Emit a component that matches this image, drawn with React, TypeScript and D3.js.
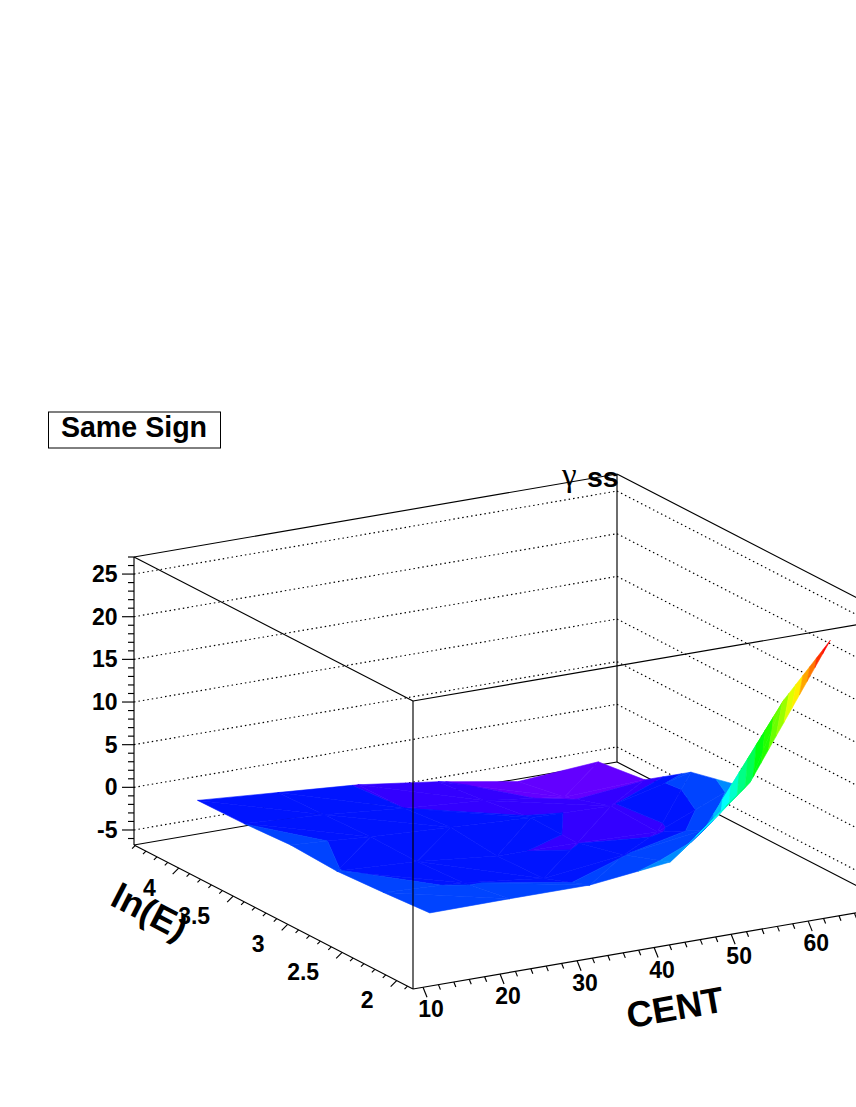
import React from 'react';
import * as d3 from 'd3';

// surface grid
const centGrid = [13, 23.4, 33.8, 44.2, 54.6, 65];
const energyGrid = [2, 2.426, 2.852, 3.278, 3.704, 4.13];
const gammaE0 = [0.5, 0.56, 0.55, 1.63, 9.39, 24.4];
const gammaE1 = [0.1, -0.38, -1.5, -0.35, 0.95, 14.6];
const gammaE2 = [-0.22, -0.7, -1.67, -1.75, -2.1, 1.8];
const gammaE3 = [0.05, -0.6, -1.1, -1.6, -1.85, 0.5];
const gammaE4 = [-0.26, -0.85, -1.7, -2.4, -3.6, -3.2];
const gammaE5 = [-0.35, -1.05, -1.75, -3.0, -4.6, -3.9];
const gamma = [gammaE0, gammaE1, gammaE2, gammaE3, gammaE4, gammaE5];

const centTicks = [10, 20, 30, 40, 50, 60];
const energyTicks = [2, 2.5, 3, 3.5, 4];
const gammaTicks = [-5, 0, 5, 10, 15, 20, 25];

const centDomain: [number, number] = [8.7, 71.4];
const energyDomain: [number, number] = [1.85, 4.41];
const gammaDomain: [number, number] = [-6.76, 27];

const nBands = 20;
const font = '"Liberation Sans", Arial, sans-serif';

// box corner and the three projected axis vectors (parallel projection)
const origin = [413, 989];
const centVec = [483, -83];
const energyVec = [-279, -144];
const gammaVec = [0, -288];

const cs = d3.scaleLinear().domain(centDomain).range([0, 1]);
const es = d3.scaleLinear().domain(energyDomain).range([0, 1]);
const zs = d3.scaleLinear().domain(gammaDomain).range([0, 1]);

type P3 = [number, number, number];

function project(c: number, e: number, z: number): [number, number] {
  const a = cs(c), b = es(e), d = zs(z);
  return [
    origin[0] + a * centVec[0] + b * energyVec[0] + d * gammaVec[0],
    origin[1] + a * centVec[1] + b * energyVec[1] + d * gammaVec[1],
  ];
}

const zMin = d3.min(gamma.flat()) as number;
const zMax = d3.max(gamma.flat()) as number;
const bandOf = d3.scaleQuantize<number>().domain([zMin, zMax]).range(d3.range(nBands));
const levels = [zMin, ...bandOf.thresholds(), zMax];

// ROOT's default rainbow palette, 50 hues thinned to the contour count
function bandColor(k: number) {
  const idx = Math.floor(((k + 0.99) * 50) / nBands);
  return d3.hsl(280 - (idx + 1) * 5.6, 1, 0.5).formatHex();
}

function clip(poly: P3[], level: number, keepAbove: boolean): P3[] {
  const out: P3[] = [];
  poly.forEach((p, n) => {
    const q = poly[(n + 1) % poly.length];
    const pIn = keepAbove ? p[2] >= level : p[2] <= level;
    const qIn = keepAbove ? q[2] >= level : q[2] <= level;
    if (pIn) out.push(p);
    if (pIn !== qIn) {
      const t = (level - p[2]) / (q[2] - p[2]);
      out.push([p[0] + t * (q[0] - p[0]), p[1] + t * (q[1] - p[1]), level]);
    }
  });
  return out;
}

const line = d3.line().curve(d3.curveLinearClosed);

function surfacePieces() {
  const pieces: { d: string; fill: string }[] = [];
  const cells: [number, number][] = [];
  for (let j = 0; j < energyGrid.length - 1; j++)
    for (let i = 0; i < centGrid.length - 1; i++) cells.push([i, j]);
  cells.sort((a, b) => b[0] + b[1] - (a[0] + a[1]));

  const vert = (i: number, j: number): P3 => [centGrid[i], energyGrid[j], gamma[j][i]];
  cells.forEach(([i, j]) => {
    const a = vert(i, j), b = vert(i + 1, j), c = vert(i + 1, j + 1), d = vert(i, j + 1);
    // split each quad along the flatter diagonal
    const tris: P3[][] =
      Math.abs(a[2] - c[2]) < Math.abs(b[2] - d[2])
        ? [[a, c, d], [a, b, c]]
        : [[b, c, d], [a, b, d]];
    tris.forEach((tri) => {
      d3.range(nBands).forEach((k) => {
        let poly = clip(tri, levels[k], true);
        if (poly.length) poly = clip(poly, levels[k + 1], false);
        if (poly.length < 3) return;
        const pts = poly.map((p) => project(p[0], p[1], p[2]));
        pieces.push({ d: line(pts) as string, fill: bandColor(k) });
      });
    });
  });
  return pieces;
}

function Seg({ a, b, dash }: { a: number[]; b: number[]; dash?: string }) {
  return (
    <line
      x1={a[0]}
      y1={a[1]}
      x2={b[0]}
      y2={b[1]}
      stroke="#000"
      strokeWidth={1.15}
      strokeDasharray={dash}
    />
  );
}

export default function App() {
  const [c0, c1] = centDomain;
  const [e0, e1] = energyDomain;
  const [z0, z1] = gammaDomain;
  const pieces = surfacePieces();

  const centMinor = d3.range(10, 71, 2);
  const energyMinor = d3.range(19, 45).map((v) => v / 10);
  const gammaMinor = d3.range(-6, 28);

  const numStyle = { fontFamily: font, fontWeight: 700, fontSize: 23 };

  return (
    <svg
      width={856}
      height={1107}
      style={{ position: 'absolute', left: 0, top: 0, background: '#fff' }}
    >
      {/* back walls */}
      {gammaTicks.map((z) => (
        <Seg key={z} a={project(c0, e1, z)} b={project(c1, e1, z)} dash="1.5 3" />
      ))}
      {gammaTicks.map((z) => (
        <Seg key={z} a={project(c1, e1, z)} b={project(c1, e0, z)} dash="1.5 3" />
      ))}
      <Seg a={project(c0, e1, z0)} b={project(c0, e1, z1)} />
      <Seg a={project(c1, e1, z0)} b={project(c1, e1, z1)} />
      <Seg a={project(c0, e1, z0)} b={project(c1, e1, z0)} />
      <Seg a={project(c1, e1, z0)} b={project(c1, e0, z0)} />
      <Seg a={project(c0, e1, z1)} b={project(c1, e1, z1)} />
      <Seg a={project(c1, e1, z1)} b={project(c1, e0, z1)} />

      {/* surface */}
      <g>
        {pieces.map((p, n) => (
          <path key={n} d={p.d} fill={p.fill} stroke={p.fill} strokeWidth={0.6} />
        ))}
      </g>

      {/* front edges */}
      <Seg a={project(c0, e0, z0)} b={project(c0, e0, z1)} />
      <Seg a={project(c0, e1, z1)} b={project(c0, e0, z1)} />
      <Seg a={project(c0, e0, z1)} b={project(c1, e0, z1)} />
      <Seg a={project(c0, e1, z0)} b={project(c0, e0, z0)} />
      <Seg a={project(c0, e0, z0)} b={project(c1, e0, z0)} />

      {/* gamma axis */}
      {gammaMinor.map((z) => {
        const p = project(c0, e1, z);
        return <Seg key={z} a={p} b={[p[0] - (z % 5 === 0 ? 12 : 6), p[1]]} />;
      })}
      {gammaTicks.map((z) => {
        const p = project(c0, e1, z);
        return (
          <text key={z} x={p[0] - 16.5} y={p[1] + 8} textAnchor="end" {...numStyle}>
            {z}
          </text>
        );
      })}

      {/* cent axis */}
      {centMinor.map((c) => {
        const p = project(c, e0, z0);
        const big = c % 10 === 0;
        return <Seg key={c} a={p} b={[p[0] + (big ? 4 : 2), p[1] + (big ? 10 : 5)]} />;
      })}
      {centTicks.map((c) => {
        const p = project(c, e0, z0);
        return (
          <text key={c} x={p[0] + 8} y={p[1] + 30} textAnchor="middle" {...numStyle}>
            {c}
          </text>
        );
      })}

      {/* energy axis */}
      {energyMinor.map((e) => {
        const p = project(c0, e, z0);
        const big = Math.round(e * 10) % 5 === 0;
        return <Seg key={e} a={p} b={[p[0] - (big ? 6 : 3), p[1] + (big ? 6 : 3)]} />;
      })}
      {energyTicks.map((e) => {
        const p = project(c0, e, z0);
        return (
          <text key={e} x={p[0] - 23} y={p[1] + 27.5} textAnchor="end" {...numStyle}>
            {e}
          </text>
        );
      })}

      {/* axis titles */}
      <text
        transform="translate(675,1007) rotate(-10)"
        textAnchor="middle"
        dy={13}
        fontFamily={font}
        fontWeight={700}
        fontSize={36}
      >
        CENT
      </text>
      <text
        transform="translate(150,911) rotate(27.3)"
        textAnchor="middle"
        dy={13}
        fontFamily={font}
        fontWeight={700}
        fontSize={36}
      >
        ln(E)
      </text>

      {/* z title */}
      <text x={562} y={486} fontFamily='"Liberation Serif", serif' fontSize={33}>
        γ
      </text>
      <text x={587} y={487} fontFamily={font} fontWeight={700} fontSize={28.5}>
        ss
      </text>

      {/* label box */}
      <rect x={48.5} y={412} width={172} height={36} fill="#fff" stroke="#000" strokeWidth={1} />
      <text x={134} y={437} textAnchor="middle" fontFamily={font} fontWeight={700} fontSize={28.6}>
        Same Sign
      </text>
    </svg>
  );
}
